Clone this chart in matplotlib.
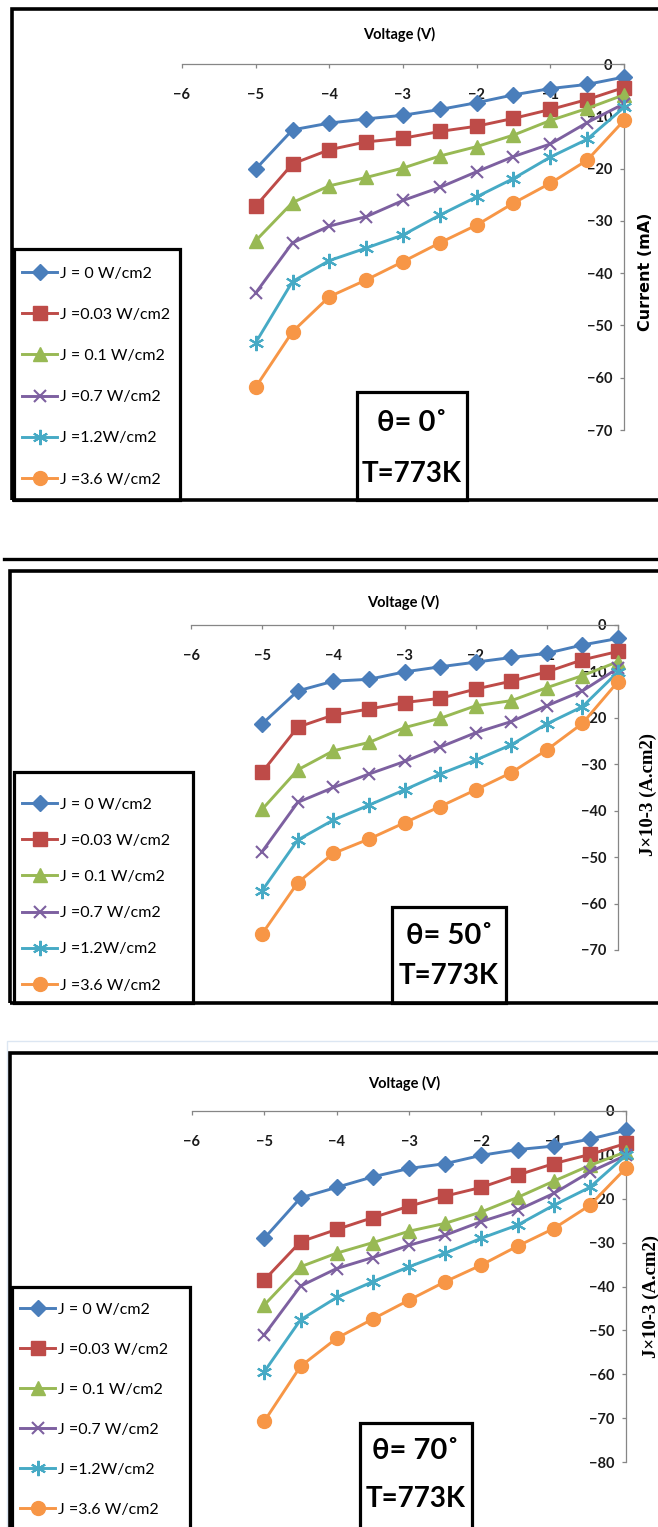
import matplotlib
matplotlib.use("Agg")
import matplotlib.pyplot as plt
from matplotlib.patches import Rectangle
from matplotlib.ticker import MultipleLocator

W, H = 658, 1527

# data
voltage = [-5, -4.5, -4, -3.5, -3, -2.5, -2, -1.5, -1, -0.5, 0]
series_labels = ["J = 0 W/cm2", "J =0.03 W/cm2", "J = 0.1 W/cm2",
                 "J =0.7 W/cm2", "J =1.2W/cm2", "J =3.6 W/cm2"]
series_colors = ["#4A7EBB", "#BE4B48", "#98B954", "#7D60A0", "#46AAC5", "#F79646"]
series_markers = ["D", "s", "^", "x", (6, 2, 0), "o"]
marker_sizes = [8, 9.5, 10, 9, 11, 10]

# theta = 0 deg
cur_0deg = [
    [-20.1, -12.6, -11.3, -10.5, -9.8, -8.7, -7.4, -5.9, -4.7, -3.9, -2.5],
    [-27.2, -19.1, -16.4, -14.9, -14.2, -12.9, -11.9, -10.4, -8.7, -6.8, -4.5],
    [-33.8, -26.5, -23.3, -21.7, -19.9, -17.6, -15.8, -13.6, -10.8, -8.5, -5.9],
    [-43.8, -34.2, -31.0, -29.2, -26.1, -23.6, -20.6, -17.7, -15.3, -11.2, -7.6],
    [-53.3, -41.6, -37.6, -35.2, -32.7, -28.9, -25.4, -21.9, -17.8, -14.4, -8.3],
    [-61.8, -51.2, -44.5, -41.3, -37.8, -34.2, -30.8, -26.6, -22.8, -18.4, -10.8],
]
# theta = 50 deg
cur_50deg = [
    [-21.3, -14.2, -12.1, -11.7, -10.1, -9.0, -8.0, -7.0, -6.1, -4.3, -2.9],
    [-31.7, -22.0, -19.4, -18.1, -16.7, -15.8, -13.8, -12.1, -10.1, -7.5, -5.7],
    [-39.7, -31.2, -27.1, -25.3, -22.1, -20.1, -17.4, -16.3, -13.5, -10.9, -7.9],
    [-48.8, -38.2, -35.0, -32.1, -29.4, -26.3, -23.2, -20.8, -17.4, -14.2, -9.3],
    [-57.2, -46.3, -42.0, -38.8, -35.5, -32.1, -29.1, -25.8, -21.3, -17.6, -10.1],
    [-66.5, -55.5, -49.2, -46.1, -42.6, -39.1, -35.5, -31.8, -26.9, -21.2, -12.2],
]
# theta = 70 deg
cur_70deg = [
    [-29.0, -19.8, -17.4, -15.0, -13.1, -12.0, -10.1, -8.8, -8.0, -6.4, -4.4],
    [-38.5, -29.8, -27.0, -24.3, -21.7, -19.4, -17.4, -14.6, -12.0, -9.9, -7.4],
    [-44.2, -35.5, -32.4, -30.0, -27.4, -25.6, -23.0, -19.7, -16.0, -12.4, -9.3],
    [-51.0, -39.9, -35.9, -33.4, -30.6, -28.3, -25.2, -22.6, -18.8, -13.9, -10.1],
    [-59.4, -47.6, -42.5, -38.9, -35.5, -32.4, -29.0, -26.0, -21.5, -17.4, -10.1],
    [-70.7, -58.2, -51.8, -47.4, -43.1, -38.9, -35.1, -30.8, -26.8, -21.5, -13.0],
]

panels = [
    dict(data=cur_0deg, ymin=-70, axes=(182, 64, 624, 430), frame=(12, 9, 720, 500),
         leg=(14, 249, 180, 500), leg_first=271, leg_step=41.2,
         box=(357, 392, 467, 500), theta="θ= 0˚", theta_y=423, temp_y=474,
         title_xy=(399, 34), ylab="Current (mA)", ylab_xy=(646, 272), ylab_serif=False),
    dict(data=cur_50deg, ymin=-70, axes=(191, 625, 618, 950), frame=(10, 571, 720, 1003),
         leg=(14, 772, 193, 1003), leg_first=802, leg_step=36.2,
         box=(392, 907, 506, 1003), theta="θ= 50˚", theta_y=936, temp_y=976,
         title_xy=(403, 602), ylab="J×10-3 (A.cm2)", ylab_xy=(648, 795), ylab_serif=True),
    dict(data=cur_70deg, ymin=-80, axes=(192, 1111, 626, 1462), frame=(10, 1053, 720, 1570),
         leg=(12, 1287, 190, 1570), leg_first=1307, leg_step=40.0,
         box=(360, 1423, 472, 1570), theta="θ= 70˚", theta_y=1451, temp_y=1499,
         title_xy=(404, 1083), ylab="J×10-3 (A.cm2)", ylab_xy=(651, 1296), ylab_serif=True),
]

SANS = ["Lato", "DejaVu Sans"]
GRAY = "#868686"
plt.rcParams["font.family"] = SANS
plt.rcParams["font.weight"] = "bold"

fig = plt.figure(figsize=(W / 100, H / 100), dpi=100)


def fx(x):
    return x / W


def fy(y):
    return 1 - y / H


def rect(x0, y0, x1, y1, lw=2.2, color="black"):
    fig.patches.append(Rectangle((fx(x0), fy(y1)), (x1 - x0) / W, (y1 - y0) / H,
                                 transform=fig.transFigure, fill=False, lw=lw,
                                 ec=color, zorder=10))


# faint outline behind the last panel and the separator line
rect(7, 1041, 720, 1570, lw=1.0, color="#DCE6F2")
fig.add_artist(plt.Line2D([fx(4), fx(700)], [fy(559), fy(559)], lw=2.4, color="black",
                          transform=fig.transFigure))

for p in panels:
    x0, y0, x1, y1 = p["axes"]
    ax = fig.add_axes([fx(x0), fy(y1), (x1 - x0) / W, (y1 - y0) / H])
    ax.set_facecolor("none")
    lines = []
    for vals, lab, col, mk, ms in zip(p["data"], series_labels, series_colors,
                                      series_markers, marker_sizes):
        thin = mk == "x" or isinstance(mk, tuple)
        ln, = ax.plot(voltage, vals, color=col, lw=2.1, marker=mk, ms=ms,
                      mew=1.5 if thin else 1.0, mec=col, mfc=col, label=lab,
                      clip_on=False, zorder=3)
        lines.append(ln)

    ax.set_xlim(-6, 0)
    ax.set_ylim(p["ymin"], 0)
    ax.spines["top"].set_visible(False)
    ax.spines["right"].set_visible(False)
    ax.spines["bottom"].set_position(("data", 0))
    ax.spines["left"].set_position(("data", 0))
    for s in ("bottom", "left"):
        ax.spines[s].set_color(GRAY)
        ax.spines[s].set_linewidth(0.9)
    ax.xaxis.set_major_locator(MultipleLocator(1))
    ax.yaxis.set_major_locator(MultipleLocator(10))
    ax.tick_params(axis="x", direction="out", length=3, width=0.9, color=GRAY, pad=14,
                   labelsize=10.5, labelcolor="#1a1a1a")
    ax.tick_params(axis="y", direction="out", length=3, width=0.9, color=GRAY, pad=5.5,
                   labelsize=10.5, labelcolor="#1a1a1a")

    # title and y label
    tx, ty = p["title_xy"]
    fig.text(fx(tx), fy(ty), "Voltage (V)", ha="center", va="center",
             fontsize=10.5, fontweight="bold")
    lx, lyy = p["ylab_xy"]
    if p["ylab_serif"]:
        fig.text(fx(lx), fy(lyy), p["ylab"], ha="center", va="center", rotation=90,
                 fontsize=13.5, fontweight="bold", family=["Liberation Serif", "DejaVu Serif"])
    else:
        fig.text(fx(lx), fy(lyy), p["ylab"], ha="center", va="center", rotation=90,
                 fontsize=11.5, fontweight="bold", family=["DejaVu Sans"])

    # frame, legend box, text box
    rect(*p["frame"], lw=2.6)
    rect(*p["leg"], lw=2.3)
    rect(*p["box"], lw=2.3)

    lx0 = p["leg"][0]
    fsz = 11.5
    fs_px = fsz * 100 / 72
    spacing = (p["leg_step"] - fs_px * 1.15 + 4.2) / fs_px
    fig.legend(handles=lines, labels=series_labels, loc="upper left",
               bbox_to_anchor=(fx(lx0 + 8), fy(p["leg_first"] - fs_px * 0.6 + 5)),
               frameon=False, borderpad=0, borderaxespad=0, labelspacing=spacing,
               handlelength=2.2, handletextpad=0.2,
               prop={"family": SANS, "size": fsz, "weight": "normal"})

    bx0, by0, bx1, by1 = p["box"]
    cx = (bx0 + bx1) / 2
    fig.text(fx(cx), fy(p["theta_y"]), p["theta"], ha="center", va="center",
             fontsize=21, fontweight="bold")
    fig.text(fx(cx), fy(p["temp_y"]), "T=773K", ha="center", va="center",
             fontsize=20, fontweight="bold")

fig.savefig("out.png", dpi=100)
